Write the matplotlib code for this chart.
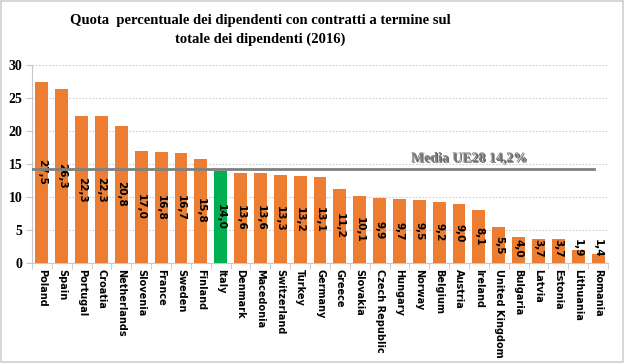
import matplotlib.pyplot as plt
import numpy as np
from matplotlib.patches import Rectangle
import matplotlib.patheffects as pe

countries = ['Poland', 'Spain', 'Portugal', 'Croatia', 'Netherlands', 'Slovenia', 'France',
             'Sweden', 'Finland', 'Italy', 'Denmark', 'Macedonia', 'Switzerland', 'Turkey',
             'Germany', 'Greece', 'Slovakia', 'Czech Republic', 'Hungary', 'Norway',
             'Belgium', 'Austria', 'Ireland', 'United Kingdom', 'Bulgaria', 'Latvia',
             'Estonia', 'Lithuania', 'Romania']
values = [27.5, 26.3, 22.3, 22.3, 20.8, 17.0, 16.8, 16.7, 15.8, 14.0, 13.6, 13.6, 13.3, 13.2,
          13.1, 11.2, 10.1, 9.9, 9.7, 9.5, 9.2, 9.0, 8.1, 5.5, 4.0, 3.7, 3.7, 1.9, 1.4]
eu_mean = 14.2
highlight = 'Italy'

orange = '#ED7D31'
green = '#00B050'

fig = plt.figure(figsize=(6.24, 3.63), dpi=100)
ax = fig.add_axes([32 / 624, 1 - 263 / 363, 576 / 624, 198 / 363])

x = np.arange(len(countries))
colors = [green if c == highlight else orange for c in countries]
ax.bar(x, values, width=0.65, color=colors, zorder=3)

for xi, v in zip(x, values):
    lbl = f'{v:.1f}'.replace('.', ',')
    ax.text(xi, max(v / 2, 2.3), lbl, rotation=270, ha='center', va='center',
            fontsize=7.5, fontweight='bold', family='DejaVu Sans', zorder=4)

ax.plot([-0.6, len(countries) - 1.2], [eu_mean, eu_mean], color='#808080', lw=2, zorder=5)
ax.text(21.5, 15.9, 'Media UE28 14,2%', ha='center', va='center', fontsize=10,
        fontweight='bold', family='Liberation Serif', color='#7f7f7f', zorder=6,
        path_effects=[pe.withSimplePatchShadow(offset=(0.8, -0.8), shadow_rgbFace='#333333', alpha=0.8)])

ax.set_xlim(-0.5, len(countries) - 0.5)
ax.set_ylim(0, 30)
ax.set_yticks(range(0, 31, 5))
ax.yaxis.grid(True, linestyle=(0, (1.5, 1.5)), color='#d0d0d0', lw=0.8, zorder=0)
ax.set_xticks(x)
ax.set_xticklabels(countries, rotation=270, fontsize=7, fontweight='bold', family='DejaVu Sans')
ax.set_xticks(np.arange(-0.5, len(countries)), minor=True)
ax.tick_params(axis='x', which='major', length=0, pad=4)
ax.tick_params(axis='x', which='minor', length=4, color='#c8c8c8')
ax.tick_params(axis='y', length=4, color='#c8c8c8', pad=3)
for lab in ax.get_yticklabels():
    lab.set_fontweight('bold')
    lab.set_family('Liberation Serif')
    lab.set_fontsize(10)

for s in ['top', 'right']:
    ax.spines[s].set_visible(False)
ax.spines['left'].set_color('#c8c8c8')
ax.spines['bottom'].set_color('#c8c8c8')

fig.text(260 / 624, 1 - 30 / 363, 'Quota  percentuale dei dipendenti con contratti a termine sul\ntotale dei dipendenti (2016)',
         ha='center', va='center', fontsize=10.5, fontweight='bold', family='Liberation Serif',
         linespacing=1.45)

fig.patches.append(Rectangle((0.001, 0.002), 0.997, 0.995, transform=fig.transFigure,
                             fill=False, edgecolor='#d0d0d0', lw=1.2))

fig.savefig('out.png', dpi=100)
